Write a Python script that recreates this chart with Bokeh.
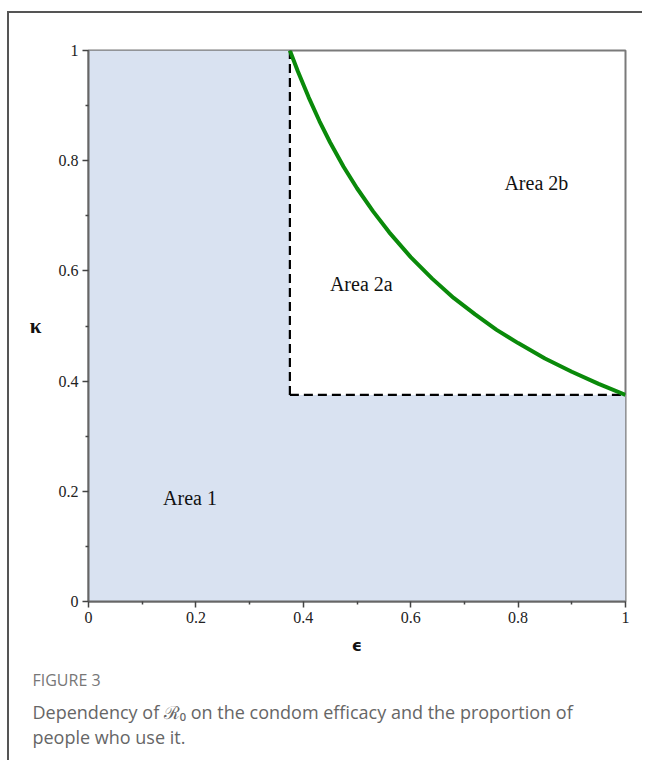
from bokeh.plotting import figure
from bokeh.models import Range1d, FixedTicker, Label, Title, InlineStyleSheet
from bokeh.embed import file_html
from bokeh.resources import INLINE

# ---- data ----
threshold = 0.375  # dashed lines position (epsilon = kappa = 0.375)
curve_eps = [0.375, 0.39, 0.41, 0.43, 0.45, 0.475, 0.5, 0.53, 0.56, 0.6, 0.64,
             0.68, 0.72, 0.76, 0.8, 0.85, 0.9, 0.95, 1.0]
curve_kappa = [1.0, 0.962, 0.915, 0.872, 0.833, 0.789, 0.75, 0.708, 0.67, 0.625,
               0.586, 0.551, 0.521, 0.493, 0.469, 0.441, 0.417, 0.395, 0.375]
tick_values = [0, 0.2, 0.4, 0.6, 0.8, 1]
tick_labels = ["0", "0.2", "0.4", "0.6", "0.8", "1"]
minor_values = [0.1, 0.3, 0.5, 0.7, 0.9]
area_names = ["Area 2b", "Area 2a", "Area 1"]
area_x = [0.834, 0.508, 0.189]
area_y = [0.76, 0.577, 0.187]
x_label = "ϵ"
y_label = "κ"
fig_title = "FIGURE 3"
caption_lines = ["Dependency of ℛ₀ on the condom efficacy and the proportion of",
                 "people who use it."]

W, H = 647, 760
L, R, T, B = 88, 22, 50, 159

p = figure(width=W, height=H, output_backend="svg", toolbar_location=None,
           x_range=Range1d(0, 1), y_range=Range1d(0, 1),
           min_border_left=L, min_border_right=R, min_border_top=T, min_border_bottom=B)
p.grid.visible = False
p.background_fill_color = "white"
p.border_fill_color = None
p.outline_line_color = "#7a7a7a"
p.outline_line_width = 2

# outer border of the figure panel (top and left edges), drawn as host background
p.stylesheets = [InlineStyleSheet(css="""
:host {
  background-color: white;
  background-image: linear-gradient(#555, #555), linear-gradient(#555, #555);
  background-size: 2px 100%, 635px 2px;
  background-position: 7px 11px, 7px 11px;
  background-repeat: no-repeat;
}
""")]

# shaded region: everything outside the upper-right square
c = threshold
p.patch([0, 1, 1, c, c, 0], [0, 0, c, c, 1, 1], fill_color="#d9e2f1",
        line_color=None)
# dashed lines
p.line([c, c], [c, 1], line_color="black", line_width=2.2, line_dash="9 5")
p.line([c, 1], [c, c], line_color="black", line_width=2.2, line_dash="9 5")
# green curve
p.line(curve_eps, curve_kappa, line_color="#0a8a0a", line_width=4)

for name, ax, ay in zip(area_names, area_x, area_y):
    p.add_layout(Label(x=ax, y=ay, text=name, text_align="center", text_baseline="middle",
                       text_font="Liberation Serif", text_font_size="20px", text_color="#111"))

ticker = FixedTicker(ticks=tick_values, minor_ticks=minor_values)
overrides = {v: s for v, s in zip(tick_values, tick_labels)}
for ax in (p.xaxis[0], p.yaxis[0]):
    ax.ticker = ticker
    ax.major_label_overrides = overrides
    ax.major_label_text_font = "Liberation Serif"
    ax.major_label_text_font_size = "16px"
    ax.major_label_text_color = "#222"
    ax.axis_line_color = "#666"
    ax.axis_line_width = 2
    ax.major_tick_line_color = "#444"
    ax.minor_tick_line_color = "#444"
    ax.major_tick_line_width = 1.5
    ax.minor_tick_line_width = 1.5
    ax.major_tick_in = 0
    ax.major_tick_out = 6
    ax.minor_tick_in = 0
    ax.minor_tick_out = 3
    ax.axis_label_text_font_style = "bold"
    ax.axis_label_text_color = "#111"

p.xaxis.axis_label = x_label
p.xaxis.axis_label_text_font = "DejaVu Sans"
p.xaxis.axis_label_text_font_size = "16px"
p.xaxis.axis_label_standoff = 10
p.xaxis.major_label_standoff = 4
p.yaxis.axis_label = y_label
p.yaxis.axis_label_text_font = "Liberation Serif"
p.yaxis.axis_label_text_font_size = "21px"
p.yaxis.axis_label_orientation = "horizontal"
p.yaxis.axis_label_standoff = 14
p.yaxis.major_label_standoff = 4

# caption below the plot
p.add_layout(Title(text=fig_title, align="left", offset=32 - L, standoff=18,
                   text_font="Open Sans", text_font_size="16px", text_font_style="normal",
                   text_line_height=0.8, text_color="#777"), "below")
p.add_layout(Title(text="\n".join(caption_lines), align="left", offset=32 - L, standoff=0,
                   vertical_align="top",
                   text_font="Open Sans", text_font_size="18px", text_font_style="normal",
                   text_line_height=1.05, text_color="#666"), "below")

open("out.html", "w").write(file_html(p, INLINE))
